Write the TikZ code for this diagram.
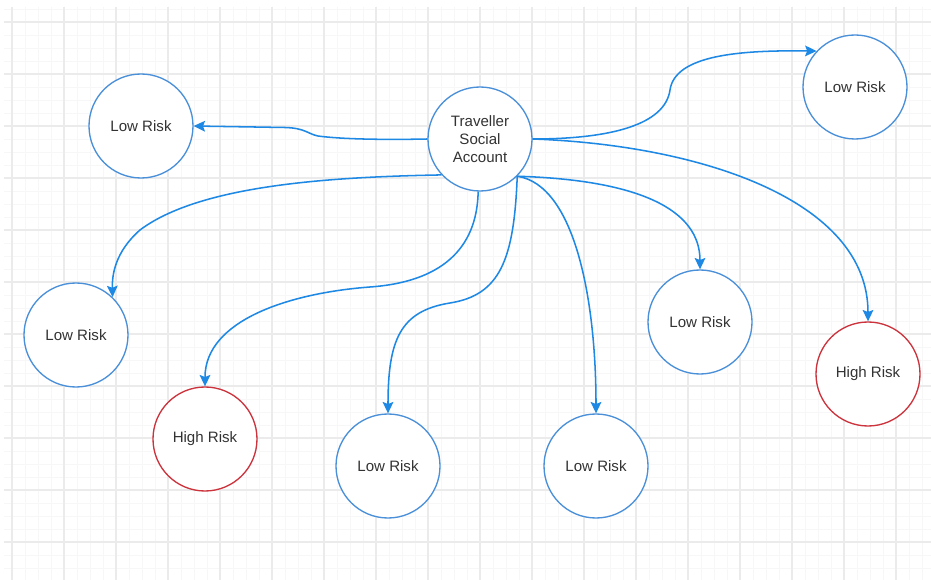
\documentclass[tikz,border=0pt]{standalone}
\usepackage{fontspec}
\setmainfont{Liberation Sans}
\usetikzlibrary{arrows.meta}
\definecolor{gridmajor}{HTML}{EBEBEB}
\definecolor{gridminor}{HTML}{F7F7F7}
\definecolor{nodeblue}{HTML}{4A90D9}
\definecolor{edgeblue}{HTML}{1E88E5}
\definecolor{riskred}{HTML}{CC333D}
\definecolor{labelgray}{HTML}{333333}
\begin{document}
\begin{tikzpicture}[x=0.75pt,y=-0.75pt,
  riskcircle/.style={circle, draw=nodeblue, line width=1pt, fill=white,
    minimum size=78pt, inner sep=0pt, align=center, text=labelgray,
    font=\fontsize{11.3}{13.7}\selectfont},
  highrisk/.style={riskcircle, draw=riskred},
  link/.style={draw=edgeblue, line width=1.15pt,
    -{Stealth[length=8.5pt,width=8pt,inset=1.5pt]}},
  minorline/.style={draw=gridminor, line width=0.6pt},
  majorline/.style={draw=gridmajor, line width=0.8pt}]

% canvas
\fill[white] (0,0) rectangle (931,580);
\useasboundingbox (0,0) rectangle (931,580);

% background grid
\begin{scope}
  \clip (4,7) rectangle (931,580);
  \foreach \i in {-1,...,71} {
    \draw[minorline] ({12+13*\i},7) -- ({12+13*\i},580);
  }
  \foreach \j in {-2,...,44} {
    \draw[minorline] (4,{22+13*\j}) -- (931,{22+13*\j});
  }
  \foreach \i in {0,...,17} {
    \draw[majorline] ({12+52*\i},7) -- ({12+52*\i},580);
  }
  \foreach \j in {0,...,10} {
    \draw[majorline] (4,{22+52*\j}) -- (931,{22+52*\j});
  }
\end{scope}

% nodes
\node[riskcircle] (acct) at (480,139) {Traveller\\Social\\Account};
\node[riskcircle] (lowTL) at (141,126) {Low Risk};
\node[riskcircle] (lowTR) at (855,87) {Low Risk};
\node[riskcircle] (lowL) at (76,335) {Low Risk};
\node[highrisk] (highL) at (205,439) {High Risk};
\node[riskcircle] (lowB1) at (388,466) {Low Risk};
\node[riskcircle] (lowB2) at (596,466) {Low Risk};
\node[riskcircle] (lowM) at (700,322) {Low Risk};
\node[highrisk] (highR) at (868,374) {High Risk};

% connectors
\draw[link] (acct.west) .. controls (380,140) and (340,139) .. (318,136)
  .. controls (308,134) and (305,128) .. (285,127.5) -- (lowTL.east);
\draw[link] (acct.223) .. controls (330,177) and (200,185) .. (140,230)
  .. controls (115,252) and (112,275) .. (lowL.46);
\draw[link] (acct.268) .. controls (477,250) and (440,282) .. (370,287)
  .. controls (290,293) and (205,320) .. (highL.north);
\draw[link] (acct.-45) .. controls (514,260) and (500,295) .. (450,303)
  .. controls (400,311) and (388,340) .. (lowB1.north);
\draw[link] (acct.-45) .. controls (575,185) and (596,300) .. (lowB2.north);
\draw[link] (acct.-45) .. controls (640,180) and (700,210) .. (lowM.north);
\draw[link] (acct.east) .. controls (700,145) and (868,200) .. (highR.north);
\draw[link] (acct.east) .. controls (610,139) and (665,125) .. (670,90)
  .. controls (675,55) and (740,50) .. (lowTR.137);

\end{tikzpicture}
\end{document}
